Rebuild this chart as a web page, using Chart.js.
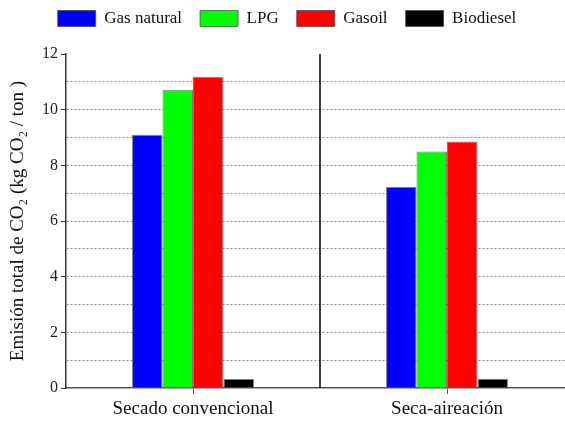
<!DOCTYPE html>
<html>
<head>
<meta charset="utf-8">
<script src="https://cdn.jsdelivr.net/npm/chart.js@4/dist/chart.umd.min.js"></script>
<style>
  html, body { margin: 0; padding: 0; background: #fff; overflow: hidden; width: 565px; height: 423px; }
</style>
</head>
<body>
<canvas id="chart" width="580" height="423"></canvas>
<script>
// categories and series
const categories = ['Secado convencional', 'Seca-aireación'];
const gasNatural = [9.1, 7.22];
const lpg = [10.72, 8.5];
const gasoil = [11.18, 8.86];
const biodiesel = [0.32, 0.33];
const yTicks = [0, 2, 4, 6, 8, 10, 12];

const serif = '"Liberation Serif", "DejaVu Serif", serif';

// black separator between the two groups
const separator = {
  id: 'separator',
  afterInit(chart) {
    // leave extra room under the legend
    const leg = chart.legend;
    if (leg) {
      const fit = leg.fit;
      leg.fit = function () { fit.call(this); this.height += 17; };
    }
  },
  afterDraw(chart) {
    const ctx = chart.ctx;
    const x = chart.scales.x;
    const area = chart.chartArea;
    const mid = (x.getPixelForValue(0) + x.getPixelForValue(1)) / 2;
    ctx.save();
    ctx.strokeStyle = '#000';
    ctx.lineWidth = 1.5;
    ctx.beginPath();
    ctx.moveTo(mid, area.top);
    ctx.lineTo(mid, area.bottom);
    ctx.stroke();
    ctx.restore();
  }
};

new Chart(document.getElementById('chart'), {
  type: 'bar',
  data: {
    labels: categories,
    datasets: [
      { label: 'Gas natural', data: gasNatural, backgroundColor: '#0000ff' },
      { label: 'LPG', data: lpg, backgroundColor: '#00ff00' },
      { label: 'Gasoil', data: gasoil, backgroundColor: '#ff0000' },
      { label: 'Biodiesel', data: biodiesel, backgroundColor: '#000000' }
    ].map(d => ({ ...d, borderColor: 'rgba(70,70,70,0.7)', borderWidth: 1, categoryPercentage: 0.48, barPercentage: 1 }))
  },
  options: {
    responsive: false,
    animation: false,
    layout: { padding: { top: -8, right: 6, left: 0, bottom: 0 } },
    plugins: {
      legend: {
        position: 'top',
        labels: {
          boxWidth: 38,
          boxHeight: 16,
          padding: 18,
          color: '#111',
          font: { family: serif, size: 17 }
        }
      },
      tooltip: { enabled: false }
    },
    scales: {
      x: {
        border: { color: '#555', width: 1.5 },
        afterFit(scale) { scale.height = 35; },
        grid: { drawOnChartArea: false, tickLength: 6, color: '#555', offset: false },
        ticks: { color: '#111', font: { family: serif, size: 19 }, padding: 4 }
      },
      y: {
        min: 0,
        max: 12,
        border: { color: '#333', width: 1.5, dash: [2, 2] },
        afterFit(scale) { scale.width = 66; },
        title: {
          display: true,
          text: 'Emisión total de CO\u2082 (kg CO\u2082 / ton )',
          color: '#111',
          font: { family: serif, size: 19 },
          padding: { top: 7, bottom: 2 }
        },
        grid: {
          color: ctx => (ctx.tick && (ctx.tick.value === 0 || ctx.tick.value === 12)) ? 'rgba(0,0,0,0)' : '#8a8a8a',
          tickColor: ctx => (ctx.tick && yTicks.includes(ctx.tick.value)) ? '#333' : 'rgba(0,0,0,0)',
          lineWidth: 1,
          tickLength: 5,
          drawTicks: true
        },
        ticks: {
          stepSize: 1,
          color: '#222',
          font: { family: serif, size: 16 },
          padding: 3,
          callback: v => yTicks.includes(v) ? String(v) : ''
        }
      }
    }
  },
  plugins: [separator]
});
</script>
</body>
</html>
